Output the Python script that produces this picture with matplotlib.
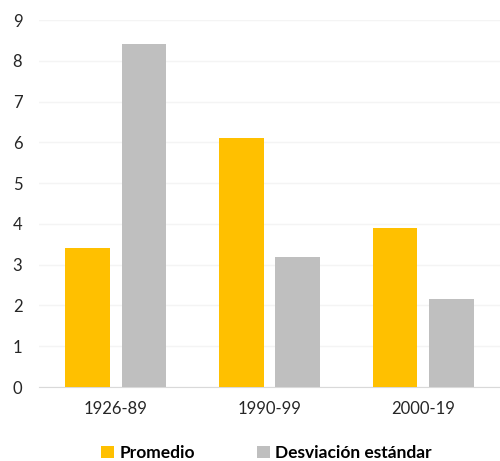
import numpy as np
import matplotlib
matplotlib.use("Agg")
import matplotlib.pyplot as plt

categories = ["1926-89", "1990-99", "2000-19"]
promedio = [3.4, 6.1, 3.9]
desviacion = [8.42, 3.2, 2.15]
series_names = ["Promedio", "Desviación estándar"]

plt.rcParams["font.family"] = ["Lato", "DejaVu Sans"]

fig = plt.figure(figsize=(5, 4.61), dpi=100)
ax = fig.add_axes([0.078, 0.1605, 0.922, 0.796])

x = np.arange(len(categories))
w = 0.29
off = 0.184
ax.bar(x - off, promedio, w, color="#FFC000", label=series_names[0], zorder=3)
ax.bar(x + off, desviacion, w, color="#BFBFBF", label=series_names[1], zorder=3)

ax.set_xlim(-0.5, 2.5)
ax.set_ylim(0, 9)
ax.set_yticks(range(10))
ax.set_xticks(x)
ax.set_xticklabels(categories)
ax.tick_params(axis="both", length=0, labelsize=12, colors="#262626")
ax.tick_params(axis="x", pad=10)
ax.tick_params(axis="y", pad=12)
ax.grid(axis="y", color="#F4F4F4", linewidth=1, zorder=0)
for s in ["top", "right", "left"]:
    ax.spines[s].set_visible(False)
ax.spines["bottom"].set_color("#D9D9D9")

leg = fig.legend(loc="center", bbox_to_anchor=(0.533, 0.017), ncol=2, frameon=False,
                 prop={"weight": "bold", "size": 12.5}, handlelength=0.75,
                 handleheight=0.75, handletextpad=0.3, columnspacing=3.6)

fig.savefig("out.png", dpi=100)
